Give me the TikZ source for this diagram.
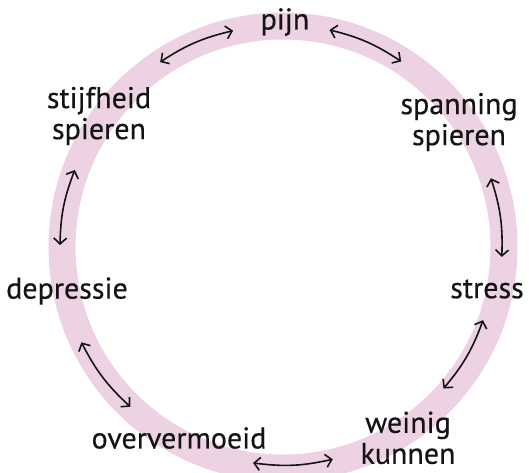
\documentclass[tikz,border=0pt]{standalone}
\usepackage{fontspec}
\setmainfont{PT Sans}[FakeBold=0.4]
\usetikzlibrary{arrows.meta}
\definecolor{ringpink}{RGB}{237,210,228}
\definecolor{txt}{RGB}{20,20,20}
\begin{document}
\begin{tikzpicture}[x=1pt,y=1pt,
  lbl/.style={text=txt, font=\fontsize{30}{31}\selectfont, align=center, inner sep=0pt},
  dbl/.style={{Straight Barb[length=6pt,width=13pt]}-{Straight Barb[length=6pt,width=13pt]}, line width=1.6pt, txt, bend right=10}]
\useasboundingbox (0,0) rectangle (529,-472);
\clip (0,0) rectangle (529,-472);
\coordinate (O) at (283,-247);
\draw[ringpink, line width=27pt] (O) circle[radius=221];
% labels
\node[lbl] (pijn) at (285,-22) {pijn};
\node[lbl] (stijf) at (99,-116) {stijfheid\\spieren};
\node[lbl] (span) at (459,-122) {spanning\\spieren};
\node[lbl] (depr) at (67,-291) {depressie};
\node[lbl] (stress) at (487,-289) {stress};
\node[lbl] (overv) at (179,-438) {oververmoeid};
\node[lbl, text depth=0pt, anchor=south] (wein) at (408,-464) {weinig\\kunnen};
% arrow end points on the ring
\coordinate (a1s) at ([shift={(O)}]103:222);
\coordinate (a1e) at ([shift={(O)}]123.6:222);
\coordinate (a2s) at ([shift={(O)}]57.5:220);
\coordinate (a2e) at ([shift={(O)}]77.9:222);
\coordinate (a3s) at ([shift={(O)}]-2.6:219);
\coordinate (a3e) at ([shift={(O)}]18.3:219);
\coordinate (a4s) at ([shift={(O)}]-41.4:214);
\coordinate (a4e) at ([shift={(O)}]-20.1:213);
\coordinate (a5s) at ([shift={(O)}]-97.9:218);
\coordinate (a5e) at ([shift={(O)}]-76.8:218);
\coordinate (a6s) at ([shift={(O)}]-154.7:223);
\coordinate (a6e) at ([shift={(O)}]-133.7:221);
\coordinate (a7s) at ([shift={(O)}]159.7:222);
\coordinate (a7e) at ([shift={(O)}]179.5:223);
\draw[dbl] (a1s) to (a1e);
\draw[dbl] (a2s) to (a2e);
\draw[dbl] (a3s) to (a3e);
\draw[dbl] (a4s) to (a4e);
\draw[dbl] (a5s) to (a5e);
\draw[dbl] (a6s) to (a6e);
\draw[dbl] (a7s) to (a7e);
\end{tikzpicture}
\end{document}
